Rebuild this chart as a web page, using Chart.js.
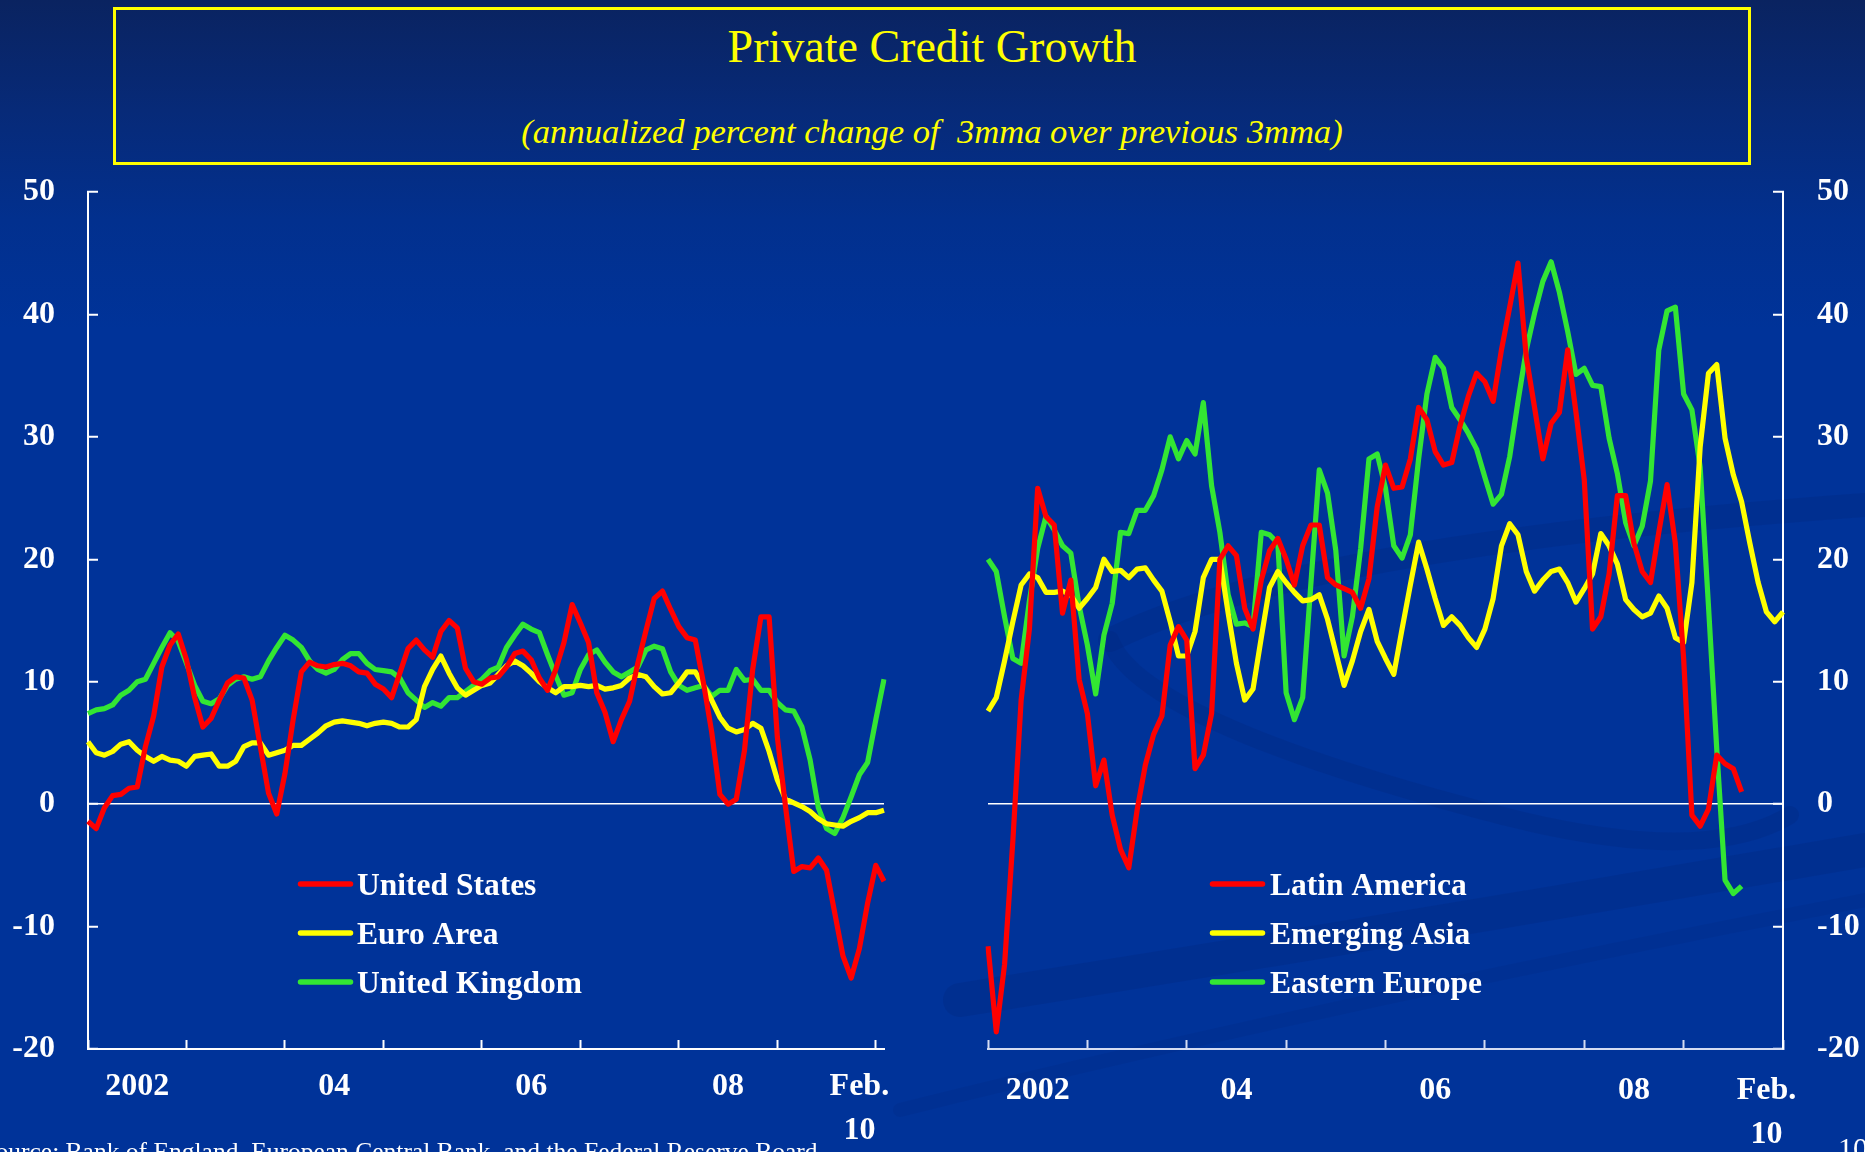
<!DOCTYPE html>
<html lang="en">
<head>
<meta charset="utf-8">
<title>Private Credit Growth</title>
<script src="https://cdn.jsdelivr.net/npm/chart.js@4.4.1/dist/chart.umd.min.js"></script>
<style>
  html, body { margin:0; padding:0; width:1865px; height:1152px; overflow:hidden; }
  body {
    position:relative;
    background: linear-gradient(180deg, #0a2360 0px, #072a78 110px, #02308e 220px, #003399 330px, #003399 1152px);
    font-family: "Liberation Serif", "DejaVu Serif", serif;
    color:#fff;
  }
  #backdrop, canvas { position:absolute; left:0; top:0; }
  #titleBox { position:absolute; left:113px; top:7px; width:1638px; height:158px; box-sizing:border-box; border:3px solid #ffff00; }
  .title { position:absolute; left:113px; width:1638px; text-align:center; color:#ffff00; line-height:1; white-space:nowrap; }
  #mainTitle { top:24px; font-size:46px; }
  #subTitle { top:114px; font-size:34.6px; font-style:italic; }
  #source { position:absolute; right:1041px; top:1139px; font-size:25.5px; line-height:1; white-space:nowrap; }
  #pageNo { position:absolute; left:1838px; top:1133px; font-size:30px; line-height:1; }
</style>
</head>
<body>
<svg id="backdrop" width="1865" height="1152" viewBox="0 0 1865 1152">
  <g fill="none" stroke="#00287f" stroke-opacity="0.3" stroke-linecap="round">
    <path d="M 1110 640 Q 1300 545 1865 505" stroke-width="24"/>
    <path d="M 1110 640 Q 1140 720 1480 810 Q 1700 870 1790 815" stroke-width="18"/>
    <path d="M 960 1000 Q 1400 930 1865 850" stroke-width="34"/>
    <path d="M 900 1110 Q 1300 1010 1865 900" stroke-width="14" stroke-opacity="0.2"/>
  </g>
</svg>

<div id="titleBox"></div>
<div id="mainTitle" class="title">Private Credit Growth</div>
<div id="subTitle" class="title">(annualized percent change of&nbsp; 3mma over previous 3mma)</div>

<canvas id="advanced" width="1865" height="1152"></canvas>
<canvas id="emerging" width="1865" height="1152"></canvas>

<div id="source">Source: Bank of England, European Central Bank, and the Federal Reserve Board.</div>
<div id="pageNo">10</div>

<script>
// Monthly categories, January 2002 onward
const months = [];
for (let yr = 2002; yr <= 2010; yr++) {
  for (let mo = 1; mo <= 12; mo++) months.push(yr + '-' + String(mo).padStart(2, '0'));
}
const advancedMonths = months.slice(0, 98);   // Jan 2002 - Feb 2010
const emergingMonths = months.slice(0, 97);   // Jan 2002 - Jan 2010

// x-axis labels and where they sit (category index)
const yearTickIndex = [6, 30, 54, 78, 94];
const yearTickText = ['2002', '04', '06', '08', ['Feb.', '10']];

// y-axis range
const yMin = -20;
const yMax = 50;
const yStep = 10;

// Advanced economies (percent)
const unitedStates = [
  -1.4, -2.0, -0.3, 0.7, 0.8, 1.3, 1.4, 4.7, 7.2, 11.2,
  13.0, 13.9, 11.8, 8.7, 6.3, 7.0, 8.5, 9.9, 10.4, 10.3,
  8.5, 4.7, 0.9, -0.8, 2.5, 6.9, 10.8, 11.6, 11.3, 11.2,
  11.4, 11.5, 11.3, 10.8, 10.7, 9.8, 9.4, 8.7, 10.7, 12.7,
  13.4, 12.6, 12.0, 14.1, 15.0, 14.4, 11.1, 10.0, 9.8, 10.3,
  10.4, 11.2, 12.3, 12.5, 11.8, 10.3, 9.3, 11.0, 13.2, 16.3,
  14.8, 13.2, 9.1, 7.5, 5.1, 6.9, 8.4, 11.5, 14.2, 16.8,
  17.4, 15.9, 14.5, 13.6, 13.4, 9.9, 5.9, 0.8, 0.0, 0.4,
  4.4, 11.0, 15.3, 15.3, 5.5, -0.2, -5.5, -5.1, -5.2, -4.4,
  -5.4, -8.9, -12.4, -14.2, -11.8, -8.1, -5.0, -6.3
];
const euroArea = [
  5.1, 4.2, 4.0, 4.3, 4.9, 5.1, 4.4, 3.9, 3.5, 3.9,
  3.6, 3.5, 3.1, 3.9, 4.0, 4.1, 3.1, 3.1, 3.5, 4.7,
  5.0, 5.0, 4.0, 4.2, 4.4, 4.8, 4.8, 5.3, 5.8, 6.4,
  6.7, 6.8, 6.7, 6.6, 6.4, 6.6, 6.7, 6.6, 6.3, 6.3,
  6.9, 9.6, 11.0, 12.1, 10.7, 9.5, 8.9, 9.3, 9.7, 9.9,
  10.6, 11.3, 11.7, 11.3, 10.7, 10.0, 9.5, 9.1, 9.6, 9.6,
  9.7, 9.6, 9.7, 9.4, 9.5, 9.7, 10.3, 10.6, 10.4, 9.6,
  9.0, 9.1, 9.9, 10.8, 10.8, 9.7, 8.5, 7.1, 6.2, 5.9,
  6.1, 6.6, 6.2, 4.3, 2.0, 0.4, 0.1, -0.2, -0.6, -1.2,
  -1.6, -1.7, -1.8, -1.4, -1.1, -0.7, -0.7, -0.5
];
const unitedKingdom = [
  7.4, 7.7, 7.8, 8.1, 8.9, 9.3, 10.0, 10.2, 11.5, 12.8,
  14.0, 13.3, 11.5, 9.7, 8.4, 8.2, 8.6, 9.7, 10.2, 10.4,
  10.2, 10.4, 11.7, 12.8, 13.8, 13.4, 12.8, 11.7, 11.0, 10.7,
  11.0, 11.8, 12.3, 12.3, 11.5, 11.0, 10.9, 10.8, 10.3, 9.1,
  8.5, 7.9, 8.3, 8.0, 8.7, 8.7, 9.2, 9.7, 10.2, 10.9,
  11.2, 12.8, 13.8, 14.7, 14.3, 14.0, 12.2, 10.5, 8.9, 9.1,
  11.0, 12.2, 12.6, 11.6, 10.8, 10.4, 10.8, 11.2, 12.6, 12.9,
  12.7, 10.8, 9.7, 9.3, 9.5, 9.7, 8.8, 9.3, 9.3, 11.0,
  10.1, 10.2, 9.3, 9.3, 8.3, 7.7, 7.6, 6.3, 3.6, -0.3,
  -2.0, -2.4, -1.1, 0.6, 2.4, 3.4, 6.9, 10.2
];

// Emerging market regions (percent)
const latinAmerica = [
  -11.6, -18.6, -13.1, -3.0, 8.5, 14.3, 25.8, 23.5, 22.8, 15.6,
  18.3, 10.2, 7.4, 1.5, 3.6, -0.9, -3.7, -5.2, -0.5, 3.2,
  5.7, 7.2, 13.0, 14.5, 13.4, 2.9, 4.0, 7.4, 20.0, 21.1,
  20.3, 16.0, 14.3, 18.3, 20.7, 21.7, 20.0, 17.9, 21.1, 22.8,
  22.8, 18.5, 17.9, 17.6, 17.3, 16.0, 18.4, 24.3, 27.7, 25.8,
  25.9, 28.2, 32.4, 31.4, 28.8, 27.7, 27.9, 30.9, 33.3, 35.2,
  34.5, 32.9, 37.1, 40.6, 44.2, 36.5, 32.4, 28.2, 31.1, 32.0,
  37.1, 32.0, 26.5, 14.3, 15.3, 18.8, 25.2, 25.2, 21.3, 19.0,
  18.1, 22.2, 26.1, 21.3, 11.9, -0.9, -1.8, -0.4, 4.0, 3.3,
  2.9, 1.0
];
const emergingAsia = [
  7.6, 8.7, 11.7, 14.9, 17.9, 18.8, 18.5, 17.3, 17.3, 17.4,
  17.1, 16.0, 16.8, 17.7, 20.0, 19.0, 19.1, 18.5, 19.2, 19.3,
  18.3, 17.4, 14.9, 12.1, 12.1, 14.1, 18.5, 20.0, 20.0, 15.6,
  11.5, 8.5, 9.4, 13.6, 17.7, 19.0, 18.1, 17.3, 16.6, 16.7,
  17.1, 15.1, 12.4, 9.7, 11.7, 14.1, 15.9, 13.3, 11.9, 10.6,
  14.3, 17.9, 21.4, 19.2, 16.8, 14.6, 15.3, 14.6, 13.6, 12.8,
  14.3, 16.8, 21.1, 22.9, 22.0, 19.0, 17.4, 18.3, 19.0, 19.2,
  18.1, 16.5, 17.6, 18.8, 22.1, 21.1, 19.6, 16.7, 15.9, 15.3,
  15.6, 17.0, 16.0, 13.6, 13.2, 18.1, 29.2, 35.2, 35.9, 29.9,
  26.9, 24.7, 21.3, 18.1, 15.7, 14.9, 15.7
];
const easternEurope = [
  20.0, 19.0, 15.3, 11.9, 11.5, 16.6, 20.9, 23.5, 22.4, 21.1,
  20.5, 16.2, 13.0, 9.0, 13.8, 16.4, 22.2, 22.1, 24.0, 24.0,
  25.2, 27.3, 30.0, 28.2, 29.7, 28.6, 32.8, 26.0, 22.2, 17.1,
  14.7, 14.8, 14.5, 22.2, 22.0, 21.3, 9.1, 6.9, 8.7, 18.1,
  27.3, 25.4, 20.7, 12.1, 15.3, 20.9, 28.2, 28.6, 25.8, 21.1,
  20.1, 22.0, 28.2, 33.5, 36.5, 35.6, 32.4, 31.4, 30.3, 29.0,
  26.7, 24.5, 25.3, 28.4, 32.9, 37.1, 40.1, 42.7, 44.3, 41.8,
  38.6, 35.1, 35.6, 34.2, 34.1, 29.9, 27.0, 23.0, 21.1, 22.7,
  26.4, 37.1, 40.3, 40.6, 33.5, 32.2, 27.5, 16.2, 4.5, -6.2,
  -7.3, -6.7
];

const RED = '#ff0000';
const YELLOW = '#ffff00';
const GREEN = '#33e633';
const SERIF = '"Liberation Serif", "DejaVu Serif", serif';

Chart.defaults.font.family = SERIF;

// Legend drawn inside the plot: a short coloured stroke followed by the series name
const insideLegend = {
  id: 'insideLegend',
  afterDraw(chart, args, opts) {
    const ctx = chart.ctx;
    ctx.save();
    chart.data.datasets.forEach((ds, i) => {
      const y = opts.top + i * opts.rowGap;
      ctx.strokeStyle = ds.borderColor;
      ctx.lineWidth = 5.5;
      ctx.lineCap = 'round';
      ctx.beginPath();
      ctx.moveTo(opts.x + 2.5, y);
      ctx.lineTo(opts.x + opts.lineLen - 2.5, y);
      ctx.stroke();
      ctx.fillStyle = '#ffffff';
      ctx.font = 'bold 31.5px ' + SERIF;
      ctx.textBaseline = 'alphabetic';
      ctx.textAlign = 'left';
      ctx.fillText(ds.label, opts.x + opts.lineLen + opts.gap, y + 10.5);
    });
    ctx.restore();
  }
};

function series(label, data, color) {
  return {
    label, data,
    borderColor: color,
    backgroundColor: color,
    borderWidth: 5.2,
    pointRadius: 0,
    tension: 0,
    borderJoinStyle: 'round',
    fill: false,
    spanGaps: false
  };
}

function xTickLabel(value, index) {
  const k = yearTickIndex.indexOf(index);
  return k >= 0 ? yearTickText[k] : '';
}

function xScale(axisColor, labelPadding) {
  return {
    type: 'category',
    grid: {
      drawOnChartArea: false,
      drawTicks: true,
      tickLength: -9,
      tickWidth: 2,
      tickColor: ctx => (ctx.index % 12 === 0 ? axisColor : 'rgba(0,0,0,0)')
    },
    border: { display: true, color: axisColor, width: 2 },
    ticks: {
      autoSkip: false,
      maxRotation: 0,
      minRotation: 0,
      color: '#ffffff',
      padding: labelPadding,
      font: { family: SERIF, size: 32, weight: 'bold', lineHeight: 1.36 },
      callback: xTickLabel
    },
    afterFit: s => { s.height = 103; }
  };
}

function yScale(position, labelPadding, width) {
  return {
    position,
    min: yMin,
    max: yMax,
    grid: {
      drawOnChartArea: true,
      color: ctx => (ctx.tick && ctx.tick.value === 0 ? '#ffffff' : 'rgba(0,0,0,0)'),
      lineWidth: 1.5,
      drawTicks: true,
      tickLength: -10,
      tickWidth: 2,
      tickColor: '#ffffff'
    },
    border: { display: true, color: '#ffffff', width: 2 },
    ticks: {
      stepSize: yStep,
      color: '#ffffff',
      padding: labelPadding,
      font: { family: SERIF, size: 32, weight: 'bold' }
    },
    afterFit: s => { s.width = width; }
  };
}

function baseOptions(padding, legendOpts, scales) {
  return {
    responsive: false,
    animation: false,
    devicePixelRatio: 1,
    layout: { padding },
    plugins: {
      legend: { display: false },
      tooltip: { enabled: false },
      insideLegend: legendOpts
    },
    scales
  };
}

// Left panel: United States, Euro Area, United Kingdom
new Chart(document.getElementById('advanced'), {
  type: 'line',
  data: {
    labels: advancedMonths,
    datasets: [
      series('United States', unitedStates, RED),
      series('Euro Area', euroArea, YELLOW),
      series('United Kingdom', unitedKingdom, GREEN)
    ]
  },
  options: baseOptions(
    { left: 0, top: 192, right: 981, bottom: 0 },
    { x: 298, top: 884, rowGap: 49, lineLen: 55, gap: 4 },
    { x: xScale('#ffffff', 25), y: yScale('left', 43, 88) }
  ),
  plugins: [insideLegend]
});

// Right panel: Latin America, Emerging Asia, Eastern Europe
new Chart(document.getElementById('emerging'), {
  type: 'line',
  data: {
    labels: emergingMonths,
    datasets: [
      series('Latin America', latinAmerica, RED),
      series('Emerging Asia', emergingAsia, YELLOW),
      series('Eastern Europe', easternEurope, GREEN)
    ]
  },
  options: baseOptions(
    { left: 988, top: 192, right: 0, bottom: 0 },
    { x: 1210, top: 884, rowGap: 49, lineLen: 55, gap: 5 },
    { x: xScale('#d4dcf2', 29), y: yScale('right', 44, 82) }
  ),
  plugins: [insideLegend]
});
</script>
</body>
</html>
